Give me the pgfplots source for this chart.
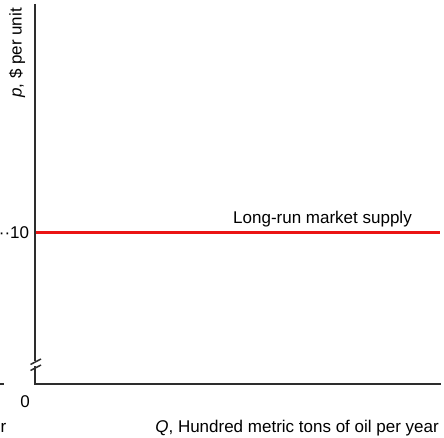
\documentclass[border=0pt]{standalone}
\usepackage{graphicx}
\usepackage{pgfplots}
\pgfplotsset{compat=1.18}
\usepackage{fontspec}
\setmainfont{Liberation Sans}
\definecolor{axisgray}{RGB}{45,45,45}
\definecolor{supplyred}{RGB}{235,20,20}
\begin{document}
\fontsize{17bp}{20bp}\selectfont
\begin{tikzpicture}[x=1bp,y=1bp]
\path[use as bounding box] (0,0) rectangle (444,438);
\begin{axis}[
  at={(36bp,54bp)}, anchor=south west,
  scale only axis,
  width=404bp, height=379bp,
  xmin=0, xmax=10, ymin=0, ymax=25,
  enlargelimits=false,
  axis line style={draw=none},
  xtick={0}, xticklabels={0},
  ytick={10}, yticklabels={··10},
  tick style={draw=none},
  major tick length=0pt,
  xticklabel style={font=\fontsize{17bp}{20bp}\selectfont, xshift=-11bp, yshift=-6bp},
  yticklabel style={font=\fontsize{17bp}{20bp}\selectfont, xshift=-1bp},
  clip=false,
]
\addplot[supplyred, line width=3.6bp] coordinates {(0,10) (10,10)};
\end{axis}
% axes with break
\draw[axisgray, line width=2.2bp] (35,434) -- (35,76.5);
\draw[axisgray, line width=2.2bp, line cap=rect] (35,70.5) -- (35,54) -- (440,54);
\draw[axisgray, line width=1.5bp] (30.5,73.5) -- (41,79);
\draw[axisgray, line width=1.5bp] (30.5,67.5) -- (41,73);
% partial neighbour elements (cropped in the reference)
\draw[axisgray, line width=2bp] (0,54) -- (4,54);
\node[anchor=base east, inner sep=0pt] at (6.5,5) {r};
% labels
\node[anchor=base east, inner sep=0pt] at (412,214) {Long-run market supply};
\node[anchor=base east, inner sep=0pt] at (439,5) {\textit{Q}, Hundred metric tons of oil per year};
\node[inner sep=0pt] at (17,385) {\rotatebox{90}{\textit{p}, \$ per unit}};
\end{tikzpicture}
\end{document}
